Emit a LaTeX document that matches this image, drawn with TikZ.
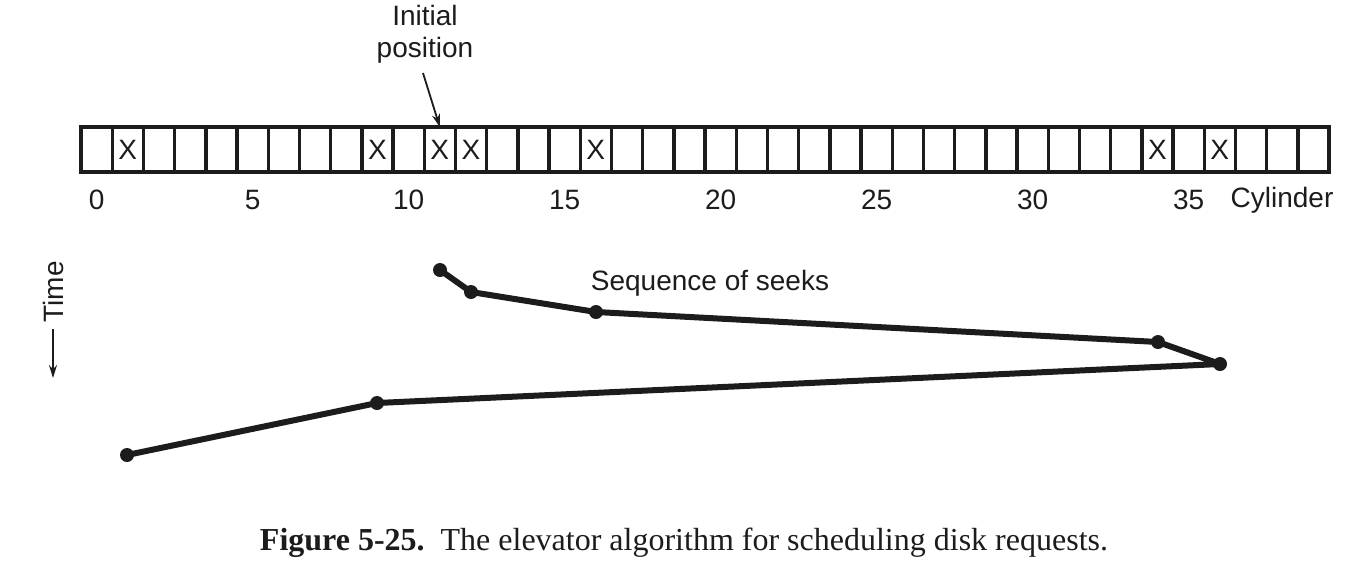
\documentclass[tikz,border=0pt]{standalone}
\usepackage{fontspec}
\setmainfont{Liberation Sans}
\newfontfamily\capfont{Liberation Serif}
\usetikzlibrary{arrows.meta}
\definecolor{ink}{HTML}{1C1C1C}
\begin{document}
\begin{tikzpicture}[x=1pt,y=-1pt,
  cell/.style={draw=ink,line width=3.4pt,minimum width=31.2pt,minimum height=45pt,inner sep=0pt,outer sep=0pt},
  lbl/.style={text=ink,font=\fontsize{28}{32}\selectfont,inner sep=0pt},
  xmark/.style={text=ink,font=\fontsize{28}{28}\selectfont,inner sep=0pt},
  dot/.style={circle,fill=ink,inner sep=0pt,minimum size=14pt},
  seek/.style={draw=ink,line width=6pt,line join=round},
  thin/.style={draw=ink,line width=1.8pt,-{Stealth[length=13pt,width=8pt]}}]
\useasboundingbox (0,0) rectangle (1350,574);
% cylinder strip
\foreach \i in {0,...,39}
  \node[cell] (c\i) at ({81+31.2*(\i+0.5)},149.5) {};
\foreach \i in {1,9,11,12,16,34,36}
  \node[xmark] (x\i) at (c\i) {X};
% numbers
\foreach \i in {0,5,...,35}
  \node[lbl] (n\i) at ({81+31.2*(\i+0.5)},200) {\i};
\node[lbl] (cyl) at (1282,200) {Cylinder};
% initial position
\node[lbl,align=center] (init) at (425,34) {Initial\\position};
\coordinate (a0) at (423,73);
\draw[thin] (a0) -- (c11.north);
% time
\node[lbl,rotate=90] (time) at (53,292) {Time};
\coordinate (t0) at (53,329);
\coordinate (t1) at (53,378);
\draw[thin] (t0) -- (t1);
% seeks
\node[dot] (p1) at (440,270) {};
\node[dot] (p2) at (471,292) {};
\node[dot] (p3) at (596,312) {};
\node[dot] (p4) at (1158,342) {};
\node[dot] (p5) at (1220,364) {};
\node[dot] (p6) at (377,403) {};
\node[dot] (p7) at (127,455) {};
\draw[seek] (p1.center) -- (p2.center) -- (p3.center) -- (p4.center) -- (p5.center) -- (p6.center) -- (p7.center);
\node[lbl] (seq) at (710,283) {Sequence of seeks};
% caption
\node[text=ink,font=\capfont\fontsize{32}{36}\selectfont,inner sep=0pt] (cap) at (684,543)
  {\textbf{Figure 5-25.}\enspace The elevator algorithm for scheduling disk requests.};
\end{tikzpicture}
\end{document}
